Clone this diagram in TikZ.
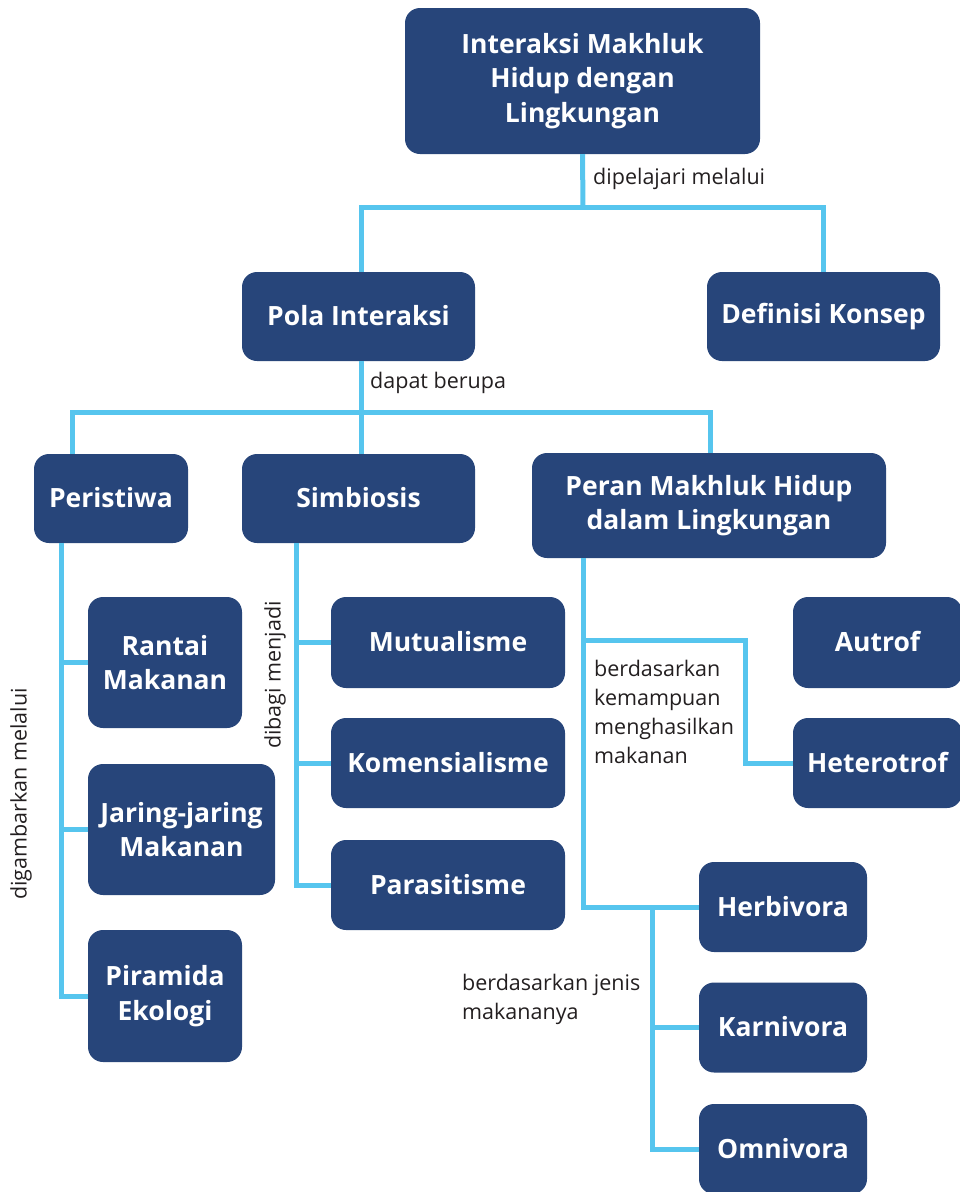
\documentclass[tikz,border=0pt]{standalone}
\usepackage{fontspec}
\setmainfont{Open Sans}
\definecolor{boxblue}{HTML}{27457A}
\definecolor{linecyan}{HTML}{56C5EE}
\definecolor{txt}{HTML}{231F20}
\begin{document}
\begin{tikzpicture}[x=1pt,y=-1pt,
  box/.style={fill=boxblue, draw=none, rounded corners=15pt, text=white, align=center,
    font=\fontsize{26.5}{34.5}\selectfont\bfseries, inner sep=0pt},
  conn/.style={draw=linecyan, line width=5pt},
  lbl/.style={text=txt, font=\fontsize{21.5}{29}\selectfont, inner sep=0pt, align=left}]
\useasboundingbox (0,0) rectangle (959,1192);
% boxes
\node[box, minimum width=355, minimum height=146] (top) at (582.5,81) {Interaksi Makhluk\\Hidup dengan\\Lingkungan};
\node[box, minimum width=233, minimum height=89] (pola) at (358.5,316.5) {\raisebox{2pt}{Pola Interaksi}};
\node[box, minimum width=233, minimum height=89] (def) at (823.5,316.5) {\raisebox{2pt}{Definisi Konsep}};
\node[box, minimum width=154, minimum height=89] (peris) at (111,498.5) {\raisebox{2pt}{Peristiwa}};
\node[box, minimum width=233, minimum height=89] (simb) at (358.5,498.5) {\raisebox{2pt}{Simbiosis}};
\node[box, minimum width=354, minimum height=105] (peran) at (709,505.5) {Peran Makhluk Hidup\\dalam Lingkungan};
\node[box, minimum width=154, minimum height=131] (rantai) at (165,662.5) {Rantai\\Makanan};
\node[box, minimum width=187, minimum height=131] (jaring) at (181.5,829.5) {Jaring-jaring\\Makanan};
\node[box, minimum width=154, minimum height=132] (piram) at (165,996) {Piramida\\Ekologi};
\node[box, minimum width=234, minimum height=91] (mutu) at (448,642.5) {\raisebox{2pt}{Mutualisme}};
\node[box, minimum width=234, minimum height=90] (komen) at (448,763) {\raisebox{2pt}{Komensialisme}};
\node[box, minimum width=234, minimum height=90] (paras) at (448,885) {\raisebox{2pt}{Parasitisme}};
\node[box, minimum width=169, minimum height=91] (autrof) at (877.5,642.5) {\raisebox{2pt}{Autrof}};
\node[box, minimum width=169, minimum height=90] (hetero) at (877.5,763) {\raisebox{2pt}{Heterotrof}};
\node[box, minimum width=168, minimum height=90] (herb) at (783,907) {\raisebox{2pt}{Herbivora}};
\node[box, minimum width=168, minimum height=90] (karn) at (783,1027.5) {\raisebox{2pt}{Karnivora}};
\node[box, minimum width=168, minimum height=90] (omni) at (783,1149) {\raisebox{2pt}{Omnivora}};
% connectors
\coordinate (j1) at (583,207);
\draw[conn] (top.south) -- (j1);
\draw[conn] ([xshift=2.5]pola.north) |- (j1) -| (def.north);
\coordinate (j2) at (361,412);
\draw[conn] ([xshift=2.5]pola.south) -- ([xshift=2.5]simb.north);
\draw[conn] ([xshift=-39]peris.north) |- (j2) -| ([xshift=1]peran.north);
\coordinate (pv) at ([xshift=-50]peris.south);
\draw[conn] (pv) |- (piram.west);
\draw[conn] (rantai.west) -- (pv |- rantai.west);
\draw[conn] (jaring.west) -- (pv |- jaring.west);
\coordinate (sv) at ([xshift=-62.5]simb.south);
\draw[conn] (sv) |- (paras.west);
\draw[conn] (mutu.west) -- (sv |- mutu.west);
\draw[conn] (komen.west) -- (sv |- komen.west);
\coordinate (rv) at ([xshift=-126]peran.south);
\coordinate (b1) at (745,640);
\draw[conn] (rv) |- (herb.west);
\draw[conn] (rv |- b1) -- (b1) |- (hetero.west);
\coordinate (hv) at (652,907);
\draw[conn] (hv) |- (omni.west);
\draw[conn] (karn.west) -- (hv |- karn.west);
% labels
\node[lbl, anchor=west] (l1) at (593,179) {dipelajari melalui};
\node[lbl, anchor=west] (l2) at (370,383) {dapat berupa};
\node[lbl, rotate=90] (l3) at (21,794) {digambarkan melalui};
\node[lbl, rotate=90] (l4) at (275,675) {dibagi menjadi};
\node[lbl, anchor=north west] (l5) at (594,660) {berdasarkan\\kemampuan\\menghasilkan\\makanan};
\node[lbl, anchor=north west] (l6) at (462,974) {berdasarkan jenis\\makananya};
\end{tikzpicture}
\end{document}
